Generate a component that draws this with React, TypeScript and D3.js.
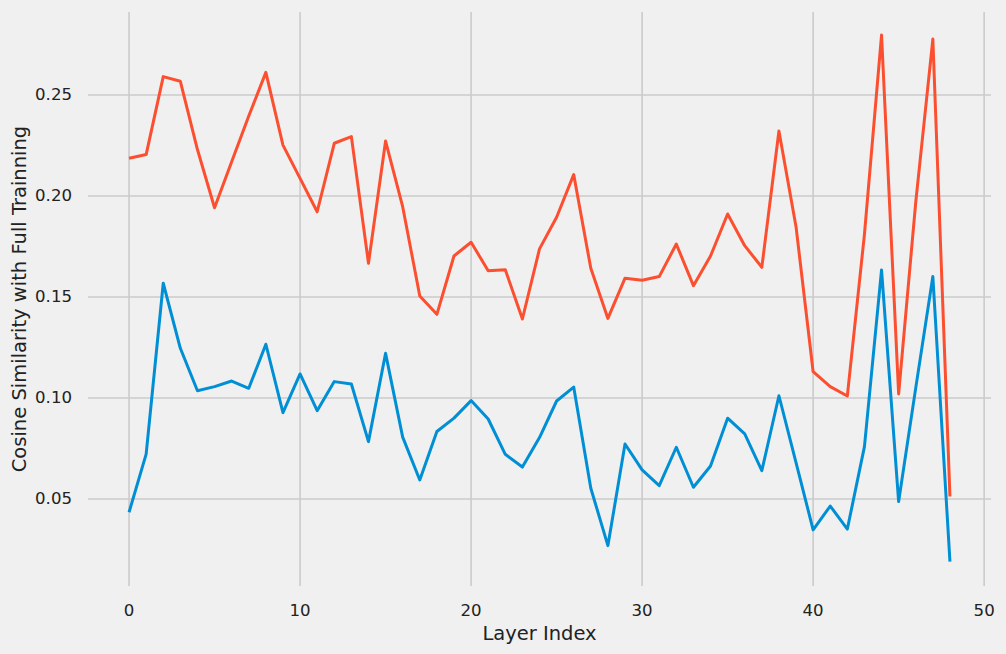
import React from "react";
import * as d3 from "d3";

const layers: number[] = d3.range(0, 49);
const fullSeries: number[] = [
  0.2187, 0.2205, 0.2591, 0.2568, 0.223, 0.1942, 0.217, 0.2396, 0.2612, 0.2252,
  0.2087, 0.1922, 0.2261, 0.2294, 0.1667, 0.2272, 0.1947, 0.1505, 0.1414, 0.1703,
  0.1771, 0.163, 0.1635, 0.1391, 0.1738, 0.1895, 0.2106, 0.1642, 0.1394, 0.1593,
  0.1583, 0.1601, 0.1762, 0.1556, 0.1703, 0.1911, 0.1754, 0.1647, 0.2322, 0.1848,
  0.113, 0.1056, 0.101, 0.181, 0.2797, 0.102, 0.197, 0.2777, 0.0512,
];
const otherSeries: number[] = [
  0.0434, 0.0722, 0.1568, 0.1246, 0.1036, 0.1056, 0.1084, 0.1048, 0.1266, 0.0927,
  0.1119, 0.0937, 0.1081, 0.1069, 0.0784, 0.1221, 0.0806, 0.0594, 0.0834, 0.09,
  0.0987, 0.0896, 0.0721, 0.0658, 0.0804, 0.0985, 0.1054, 0.0553, 0.0269, 0.0772,
  0.0644, 0.0566, 0.0756, 0.0558, 0.0663, 0.09, 0.0822, 0.064, 0.1011, 0.068,
  0.0347, 0.0465, 0.0351, 0.0759, 0.1634, 0.0487, 0.105, 0.1601, 0.019,
];
const xTicks: number[] = [0, 10, 20, 30, 40, 50];
const yTicks: number[] = [0.05, 0.1, 0.15, 0.2, 0.25];
const xLabel = "Layer Index";
const yLabel = "Cosine Similarity with Full Trainning";

const W = 1006;
const H = 654;
const FONT = "DejaVu Sans, sans-serif";

export default function App() {
  const left = 88, right = 991, top = 12, bottom = 586;
  const x = d3.scaleLinear().domain([-2.4, 50.4]).range([left, right]);
  const y = d3.scaleLinear().domain([0.00691, 0.29109]).range([bottom, top]);
  const line = d3
    .line<number>()
    .x((_, i) => x(layers[i]))
    .y((d) => y(d));

  return (
    <div style={{ position: "absolute", left: 0, top: 0 }}>
      <svg width={W} height={H} style={{ display: "block", background: "#f0f0f0" }}>
        <rect x={0} y={0} width={W} height={H} fill="#f0f0f0" />
        {yTicks.map((t) => (
          <line key={"gy" + t} x1={left} x2={right} y1={y(t)} y2={y(t)} stroke="#cbcbcb" strokeWidth={1.6} />
        ))}
        {xTicks.map((t) => (
          <line key={"gx" + t} x1={x(t)} x2={x(t)} y1={top} y2={bottom} stroke="#cbcbcb" strokeWidth={1.6} />
        ))}
        <path d={line(otherSeries) || ""} fill="none" stroke="#008fd5" strokeWidth={3} strokeLinejoin="round" />
        <path d={line(fullSeries) || ""} fill="none" stroke="#fc4f30" strokeWidth={3} strokeLinejoin="round" />
        {yTicks.map((t) => (
          <text key={"ty" + t} x={72} y={y(t)} textAnchor="end" dominantBaseline="central" fontFamily={FONT} fontSize={16.6} fill="#222">
            {d3.format(".2f")(t)}
          </text>
        ))}
        {xTicks.map((t) => (
          <text key={"tx" + t} x={x(t)} y={616} textAnchor="middle" fontFamily={FONT} fontSize={16.6} fill="#222">
            {t}
          </text>
        ))}
        <text x={(left + right) / 2} y={640} textAnchor="middle" fontFamily={FONT} fontSize={19.5} fill="#222">
          {xLabel}
        </text>
        <text
          transform={`translate(19,${(top + bottom) / 2}) rotate(-90)`}
          textAnchor="middle"
          dominantBaseline="central"
          fontFamily={FONT}
          fontSize={19.5}
          fill="#222"
        >
          {yLabel}
        </text>
      </svg>
    </div>
  );
}
